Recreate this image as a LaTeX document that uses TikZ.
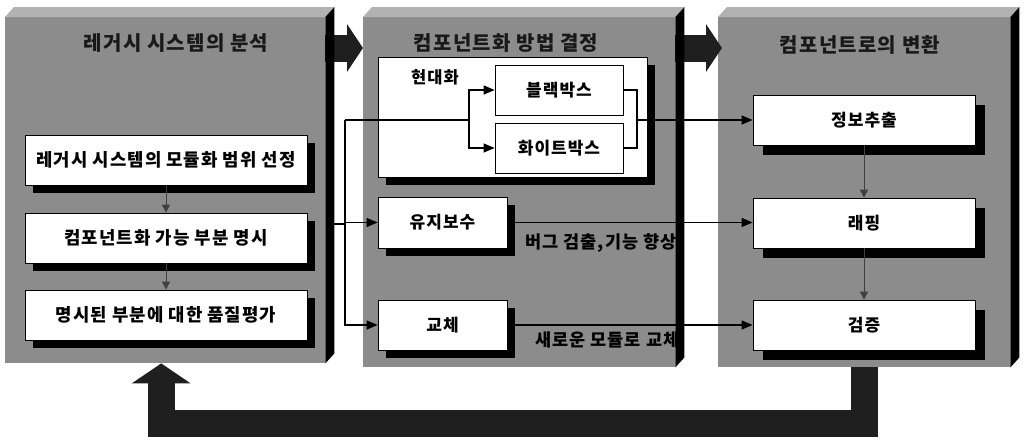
\documentclass[tikz,border=0pt]{standalone}
\usepackage{fontspec}
\newfontfamily\kr{Noto Sans CJK KR}[LetterSpace=6]
\usetikzlibrary{arrows.meta,shadows}
\newcommand\panelsides[1]{%
  \fill[bevel] (#1.north west) -- ([shift={(9,-10)}]#1.north west) -- ([shift={(9,-10)}]#1.north east) -- (#1.north east) -- cycle;
  \fill[side] (#1.north east) -- ([shift={(9,-10)}]#1.north east) -- ([shift={(9,-10)}]#1.south east) -- (#1.south east) -- cycle;}
\begin{document}
\begin{tikzpicture}[x=1pt,y=-1pt,
  face/.style={fill=black!45, draw=none, inner sep=0pt, anchor=north west},
  bevel/.style={fill=black!30},
  side/.style={fill=black},
  wbox/.style={draw=black, line width=0.8pt, fill=white, inner sep=0pt,
    font=\kr\bfseries\fontsize{17}{17}\selectfont},
  sbox/.style={wbox, drop shadow={shadow xshift=8pt, shadow yshift=-8pt, fill=black, opacity=1}},
  sboxr/.style={wbox, drop shadow={shadow xshift=10pt, shadow yshift=-10pt, fill=black, opacity=1}},
  lbox/.style={sbox, font=\kr\bfseries\fontsize{17.8}{17.8}\selectfont},
  title/.style={font=\kr\bfseries\fontsize{20}{20}\selectfont, text=black!90},
  lbl/.style={font=\kr\bfseries\fontsize{17.5}{17.5}\selectfont, text=black, inner sep=0pt},
  modlbl/.style={font=\kr\bfseries\fontsize{16.5}{16.5}\selectfont, text=black, inner sep=0pt},
  conn/.style={line width=1.2pt, draw=black},
  arr/.style={conn, -{Triangle[length=11pt,width=9pt]}},
  smallarr/.style={line width=1pt, draw=black!75, -{Triangle[length=8pt,width=8pt]}},
  toparr/.style={line width=27pt, draw=black!88, -{Triangle[length=16pt,width=47pt]}},
  bigarr/.style={line width=27pt, draw=black!88, -{Triangle[length=20pt,width=58pt]}}]
\useasboundingbox (0,0) rectangle (1024,439);
\fill[white] (0,0) rectangle (1024,439);
\coordinate (ty) at (0,48);

% panels
\node[face, minimum width=320pt, minimum height=346pt] (P1) at (5,17) {};
\node[face, minimum width=312pt, minimum height=350pt] (P2) at (363,17) {};
\node[face, minimum width=292pt, minimum height=350pt] (P3) at (718,17) {};

% arrows between panels
\draw[toparr] (P1.east |- ty) -- (P2.west |- ty);
\draw[toparr] (P2.east |- ty) -- ([xshift=4pt]P3.west |- ty);

% feedback arrow
\draw[bigarr] (P3.south) -- ++(0,56.5) -| ([xshift=-4pt]P1.south);

% labels in middle panel (clipped by the panel face)
\begin{scope}
  \clip (P2.north west) rectangle (P2.south east);
  \node[lbl, anchor=west] (lab1) at (525,243) {버그 검출,기능 향상};
  \node[lbl, anchor=west] (lab2) at (535,340) {새로운 모듈로 교체};
\end{scope}

\panelsides{P1}
\panelsides{P2}
\panelsides{P3}

% titles
\node[title] (t1) at (176,43) {레거시 시스템의 분석};
\node[title] (t2) at (506,43) {컴포넌트화 방법 결정};
\node[title] (t3) at (860,45) {컴포넌트로의 변환};

% left boxes
\node[lbox, minimum width=282pt, minimum height=50pt] (L1) at (166,160) {레거시 시스템의 모듈화 범위 선정};
\node[lbox, minimum width=282pt, minimum height=50pt] (L2) at (166,238) {컴포넌트화 가능 부분 명시};
\node[lbox, minimum width=282pt, minimum height=50pt] (L3) at (166,315) {명시된 부분에 대한 품질평가};
\draw[smallarr] (L1) -- (L2);
\draw[smallarr] (L2) -- (L3);

% middle boxes
\node[sbox, minimum width=269pt, minimum height=120pt] (MOD) at (512.5,117) {};
\node[modlbl] (modl) at (435,77) {현대화};
\node[wbox, minimum width=128pt, minimum height=50pt] (BB) at (559,90) {블랙박스};
\node[wbox, minimum width=128pt, minimum height=50pt] (WB) at (559,148) {화이트박스};
\node[sbox, minimum width=129pt, minimum height=51pt] (KEEP) at (442.5,222.5) {유지보수};
\node[sbox, minimum width=129pt, minimum height=50pt] (REP) at (442.5,325) {교체};

% right boxes
\node[sboxr, minimum width=222pt, minimum height=50pt] (EXT) at (864,120) {정보추출};
\node[sboxr, minimum width=222pt, minimum height=50pt] (WRAP) at (864,223) {래핑};
\node[sboxr, minimum width=222pt, minimum height=50pt] (VER) at (864,325) {검증};
\draw[smallarr] (EXT) -- (WRAP);
\draw[smallarr] (WRAP) -- (VER);

% connectors
\coordinate (in) at (334,224);
\coordinate (bus) at (345,120);
\coordinate (split) at (469,120);
\coordinate (merge) at (637,120);
\draw[conn] (in) -- (in -| bus);
\draw[arr] (bus) |- (KEEP.west);
\draw[arr] (bus) |- (REP.west);
\draw[conn] (bus) -- (split);
\draw[arr] (split) |- (BB.west);
\draw[arr] (split) |- (WB.west);
\draw[conn] (BB.east) -| (merge);
\draw[conn] (WB.east) -| (merge);
\draw[arr] (merge) -- (EXT.west);
\draw[arr] (KEEP.east) -- (KEEP.east -| WRAP.west);
\draw[arr] (REP.east) -- (REP.east -| VER.west);
\end{tikzpicture}
\end{document}
